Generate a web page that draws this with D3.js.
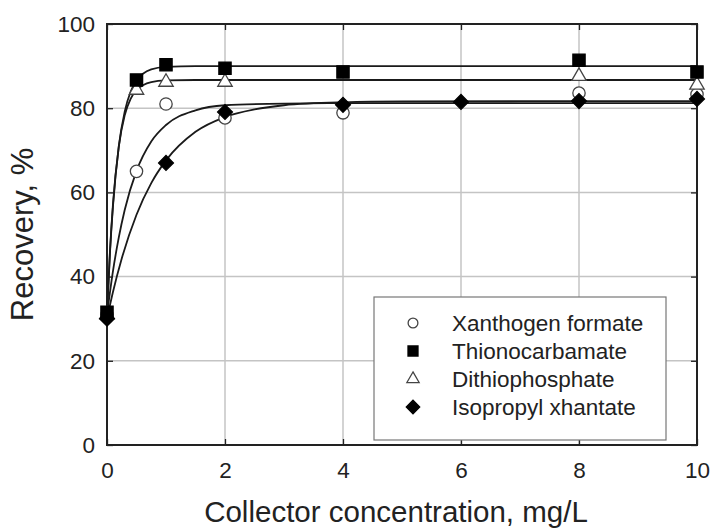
<!DOCTYPE html>
<html>
<head>
<meta charset="utf-8">
<script src="https://cdn.jsdelivr.net/npm/d3@7"></script>
<style>
  html, body { margin: 0; padding: 0; background: #fff; }
  svg { display: block; font-family: "Liberation Sans", Arial, sans-serif; }
</style>
</head>
<body>
<svg id="chart" width="712" height="529"></svg>
<script>
// ---- data ----
const seriesNames = ["Xanthogen formate", "Thionocarbamate", "Dithiophosphate", "Isopropyl xhantate"];

const xanthogenX = [0, 0.5, 1, 2, 4, 8, 10];
const xanthogenY = [31, 65, 81, 77.7, 78.9, 83.6, 83.3];

const thionoX = [0, 0.5, 1, 2, 4, 8, 10];
const thionoY = [31.5, 86.7, 90.3, 89.5, 88.6, 91.4, 88.6];

const dithioX = [0, 0.5, 1, 2, 8, 10];
const dithioY = [31, 84.3, 86.2, 86.2, 87.6, 85.5];

const isopropylX = [0, 1, 2, 4, 6, 8, 10];
const isopropylY = [30, 67, 79.1, 80.8, 81.5, 81.7, 82.2];

// fitted curves
const xanthogenCurveX = [0, 0.1, 0.2, 0.3, 0.5, 0.75, 1, 1.5, 2, 3, 4, 10];
const xanthogenCurveY = [31, 41.2, 49.3, 55.8, 65.1, 72.1, 76.0, 79.5, 80.7, 81.1, 81.2, 81.2];

const thionoCurveX = [0, 0.05, 0.1, 0.2, 0.3, 0.4, 0.5, 0.75, 1, 1.5, 2, 10];
const thionoCurveY = [31, 45.6, 56.5, 71.0, 79.2, 83.9, 86.5, 89.2, 89.8, 90.0, 90.0, 90.0];

const dithioCurveX = [0, 0.05, 0.1, 0.2, 0.3, 0.4, 0.5, 0.75, 1, 1.5, 10];
const dithioCurveY = [31, 46.0, 57.0, 70.9, 78.3, 82.2, 84.3, 86.2, 86.6, 86.7, 86.7];

const isopropylCurveX = [0, 0.1, 0.25, 0.5, 0.75, 1, 1.5, 2, 2.5, 3, 4, 5, 10];
const isopropylCurveY = [30, 36.3, 44.3, 54.7, 62.2, 67.6, 74.4, 77.9, 79.7, 80.7, 81.4, 81.6, 81.7];

const xTicks = [0, 2, 4, 6, 8, 10];
const yTicks = [0, 20, 40, 60, 80, 100];
const xTitle = "Collector concentration, mg/L";
const yTitle = "Recovery, %";

// ---- layout ----
const svg = d3.select("#chart");
const margin = { left: 107, right: 15, top: 24, bottom: 84 };
const W = 712, H = 529;
const x = d3.scaleLinear().domain([0, 10]).range([margin.left, W - margin.right]);
const y = d3.scaleLinear().domain([0, 100]).range([H - margin.bottom, margin.top]);

// grid
const grid = svg.append("g");
grid.selectAll(".gx").data(xTicks.slice(1, -1)).enter().append("line")
  .attr("x1", d => x(d)).attr("x2", d => x(d))
  .attr("y1", y(0)).attr("y2", y(100))
  .attr("stroke", "#c4c4c4").attr("stroke-width", 1.5);
grid.selectAll(".gy").data(yTicks.slice(1, -1)).enter().append("line")
  .attr("x1", x(0)).attr("x2", x(10))
  .attr("y1", d => y(d)).attr("y2", d => y(d))
  .attr("stroke", "#c4c4c4").attr("stroke-width", 1.5);

// axes (ticks inward on all sides)
const tickStyle = g => {
  g.select(".domain").remove();
  g.selectAll(".tick line").attr("stroke", "#222").attr("stroke-width", 1.3);
  g.selectAll(".tick text").attr("fill", "#222").attr("font-size", 22.5)
    .attr("font-family", "'Liberation Sans', Arial, sans-serif");
};
svg.append("g").attr("transform", `translate(0,${y(0)})`)
  .call(d3.axisBottom(x).tickValues(xTicks).tickFormat(d3.format("d")).tickSizeInner(-6).tickPadding(17))
  .call(tickStyle);
svg.append("g").attr("transform", `translate(0,${y(100)})`)
  .call(d3.axisTop(x).tickValues(xTicks).tickFormat("").tickSizeInner(-6))
  .call(tickStyle);
svg.append("g").attr("transform", `translate(${x(0)},0)`)
  .call(d3.axisLeft(y).tickValues(yTicks).tickFormat(d3.format("d")).tickSizeInner(-6).tickPadding(12))
  .call(tickStyle);
svg.append("g").attr("transform", `translate(${x(10)},0)`)
  .call(d3.axisRight(y).tickValues(yTicks).tickFormat("").tickSizeInner(-6))
  .call(tickStyle);

// frame
svg.append("rect")
  .attr("x", x(0)).attr("y", y(100))
  .attr("width", x(10) - x(0)).attr("height", y(0) - y(100))
  .attr("fill", "none").attr("stroke", "#222").attr("stroke-width", 2);

// curves
const line = d3.line().x(d => x(d[0])).y(d => y(d[1])).curve(d3.curveMonotoneX);
const curves = [
  [xanthogenCurveX, xanthogenCurveY],
  [thionoCurveX, thionoCurveY],
  [dithioCurveX, dithioCurveY],
  [isopropylCurveX, isopropylCurveY]
];
curves.forEach(([cx, cy]) => {
  svg.append("path")
    .datum(cx.map((v, i) => [v, cy[i]]))
    .attr("d", line)
    .attr("fill", "none").attr("stroke", "#1a1a1a").attr("stroke-width", 1.8);
});

// markers
const sym = {
  circle: d3.symbol().type(d3.symbolCircle),
  square: d3.symbol().type(d3.symbolSquare),
  triangle: d3.symbol().type(d3.symbolTriangle),
  diamond: d3.symbol().type(d3.symbolSquare)
};
function drawMarkers(xs, ys, kind, size) {
  const pts = xs.map((v, i) => [v, ys[i]]);
  const g = svg.append("g");
  g.selectAll("path").data(pts).enter().append("path")
    .attr("d", sym[kind].size(size)())
    .attr("transform", d => `translate(${x(d[0])},${y(d[1])})` + (kind === "diamond" ? " rotate(45)" : ""))
    .attr("fill", (kind === "square" || kind === "diamond") ? "#000" : "#fff")
    .attr("stroke", (kind === "square" || kind === "diamond") ? "#000" : "#444")
    .attr("stroke-width", 1.3);
}
drawMarkers(xanthogenX, xanthogenY, "circle", 120);
drawMarkers(dithioX, dithioY, "triangle", 90);
drawMarkers(thionoX, thionoY, "square", 150);
drawMarkers(isopropylX, isopropylY, "diamond", 110);

// legend
const lg = svg.append("g");
lg.append("rect").attr("x", 374).attr("y", 297).attr("width", 292).attr("height", 143)
  .attr("fill", "#fff").attr("stroke", "#777").attr("stroke-width", 1.2);
const legendKinds = ["circle", "square", "triangle", "diamond"];
const legendSizes = [75, 100, 65, 90];
seriesNames.forEach((name, i) => {
  const ly = 323 + i * 28;
  const k = legendKinds[i];
  lg.append("path")
    .attr("d", sym[k].size(legendSizes[i])())
    .attr("transform", `translate(413,${ly})` + (k === "diamond" ? " rotate(45)" : ""))
    .attr("fill", (k === "square" || k === "diamond") ? "#000" : "#fff")
    .attr("stroke", (k === "square" || k === "diamond") ? "#000" : "#444")
    .attr("stroke-width", 1.3);
  lg.append("text").attr("x", 452).attr("y", ly).attr("dy", "0.36em")
    .attr("font-size", 22.5).attr("fill", "#222").text(name);
});

// titles
svg.append("text").attr("x", 396).attr("y", 522)
  .attr("text-anchor", "middle").attr("font-size", 29.5).attr("fill", "#222").text(xTitle);
svg.append("text").attr("transform", `translate(33,${(y(0) + y(100)) / 2}) rotate(-90)`)
  .attr("text-anchor", "middle").attr("font-size", 31).attr("fill", "#222").text(yTitle);
</script>
</body>
</html>
